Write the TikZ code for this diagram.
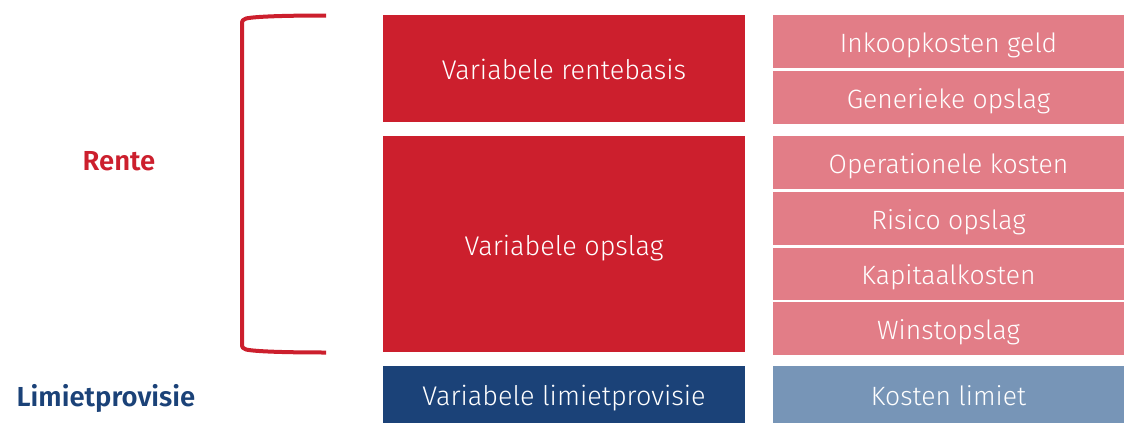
\documentclass[tikz,border=0pt]{standalone}
\usepackage{fontspec}
\setmainfont{Fira Sans}[UprightFont=* Light, BoldFont=* SemiBold]
\usetikzlibrary{positioning}

\definecolor{renterood}{HTML}{CC1F2D}
\definecolor{renteroze}{HTML}{E27D87}
\definecolor{limietblauw}{HTML}{1B4278}
\definecolor{limietlicht}{HTML}{7795B7}

\begin{document}
\begin{tikzpicture}[x=1pt, y=-1pt,
bigbox/.style={rectangle, fill=renterood, text=white, inner sep=0pt, minimum width=362pt, text height=22pt, text depth=0pt, font=\fontsize{27}{30}\selectfont},
smallbox/.style={rectangle, fill=renteroze, text=white, inner sep=0pt, minimum width=351pt, minimum height=53pt, text height=22pt, text depth=0pt, font=\fontsize{26.5}{30}\selectfont},
sidelabel/.style={font=\bfseries\fontsize{27.5}{30}\selectfont},
node distance=3pt,
]
\useasboundingbox (0,0) rectangle (1124,423);

%Nodes
\node[bigbox, minimum height=107pt]                      (rentebasis)   at (564,68.5)  {Variabele rentebasis};
\node[bigbox, minimum height=216pt]                      (opslag)       at (564,244)   {Variabele opslag};
\node[bigbox, minimum height=57pt, fill=limietblauw]     (limiet)       at (564,394.5) {Variabele limietprovisie};

\node[smallbox]                          (inkoop)       at (948.5,41.5)  {Inkoopkosten geld};
\node[smallbox]                          (generiek)     [below=of inkoop]    {Generieke opslag};
\node[smallbox]                          (operationeel) at (948.5,162.5) {Operationele kosten};
\node[smallbox]                          (risico)       [below=of operationeel] {Risico opslag};
\node[smallbox, minimum height=52pt]     (kapitaal)     [below=2pt of risico]   {Kapitaalkosten};
\node[smallbox]                          (winst)        [below=2pt of kapitaal] {Winstopslag};
\node[smallbox, minimum height=57pt, fill=limietlicht] (kosten) at (948.5,394.5) {Kosten limiet};

\node[sidelabel, text=renterood]   (rente)          at (119,161) {Rente};
\node[sidelabel, text=limietblauw] (limietprovisie) at (106,398) {Limietprovisie};

%Bracket
\coordinate (bovenend) at (326,15.5);
\coordinate (onderend) at (326,352.5);
\draw[renterood, line width=4pt, line cap=butt]
  (bovenend) .. controls (285,15.5) and (255,16.5) .. (246,18.5)
  .. controls (243,19.5) and (242,20.5) .. (242,24) -- (242,344)
  .. controls (242,347.5) and (243,348.5) .. (246,349.5)
  .. controls (255,351.5) and (285,352.5) .. (onderend);
\end{tikzpicture}
\end{document}
